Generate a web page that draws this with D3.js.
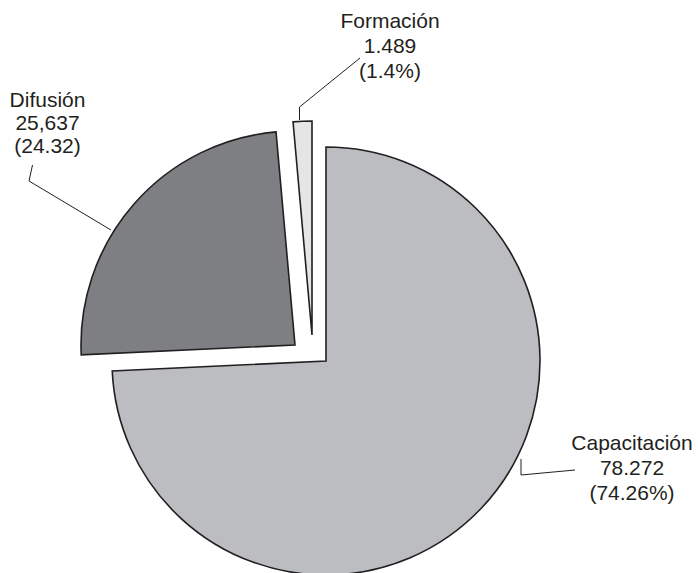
<!DOCTYPE html>
<html>
<head>
<meta charset="utf-8">
<script src="https://cdn.jsdelivr.net/npm/d3@7"></script>
<style>
  html, body { margin: 0; padding: 0; background: #fff; }
  svg text { font-family: "Liberation Sans", Arial, Helvetica, sans-serif; fill: #231f20; }
</style>
</head>
<body>
<svg id="chart" width="698" height="573"></svg>
<script>
// ---- data ----
const categories = ["Capacitación", "Difusión", "Formación"];
const values = [78.272, 25.637, 1.489];
const valueLabels = ["78.272", "25,637", "1.489"];
const percentLabels = ["(74.26%)", "(24.32)", "(1.4%)"];

// ---- layout / style ----
const W = 698, H = 573;
const cx = 326, cy = 361, R = 214;
const colors = ["#bcbdc1", "#7e7f83", "#e4e5e7"];
// explode shift per slice (dx, dy)
const shifts = [[0, 0], [-31, -16], [-14, -26]];
// label positions (centre x, first baseline y)
const labelPos = [[632, 450], [47.5, 107], [390, 28]];
const lineGap = [25, 23, 25];
const leaders = [
  [[575, 470], [521, 475], [521, 459]],
  [[111, 230], [29, 181], [32.5, 165]],
  [[360, 58], [299.5, 107], [299.5, 120]]
];

const svg = d3.select("#chart");
const pie = d3.pie().sort(null).value(d => d)(values);
const arc = d3.arc().innerRadius(0).outerRadius(R);

const g = svg.append("g").attr("transform", `translate(${cx},${cy})`);
g.selectAll("path.slice")
  .data(pie)
  .join("path")
  .attr("class", "slice")
  .attr("transform", (d, i) => `translate(${shifts[i][0]},${shifts[i][1]})`)
  .attr("d", arc)
  .attr("fill", (d, i) => colors[i])
  .attr("stroke", "#231f20")
  .attr("stroke-width", 1.6)
  .attr("stroke-linejoin", "miter");

const line = d3.line();
svg.selectAll("path.leader")
  .data(leaders)
  .join("path")
  .attr("class", "leader")
  .attr("d", d => line(d))
  .attr("fill", "none")
  .attr("stroke", "#231f20")
  .attr("stroke-width", 1);

categories.forEach((c, i) => {
  const t = svg.append("text")
    .attr("text-anchor", "middle")
    .attr("font-size", 21);
  const lines = [c, valueLabels[i], percentLabels[i]];
  lines.forEach((s, k) => {
    t.append("tspan")
      .attr("x", labelPos[i][0])
      .attr("y", labelPos[i][1] + k * lineGap[i])
      .text(s);
  });
});
</script>
</body>
</html>
